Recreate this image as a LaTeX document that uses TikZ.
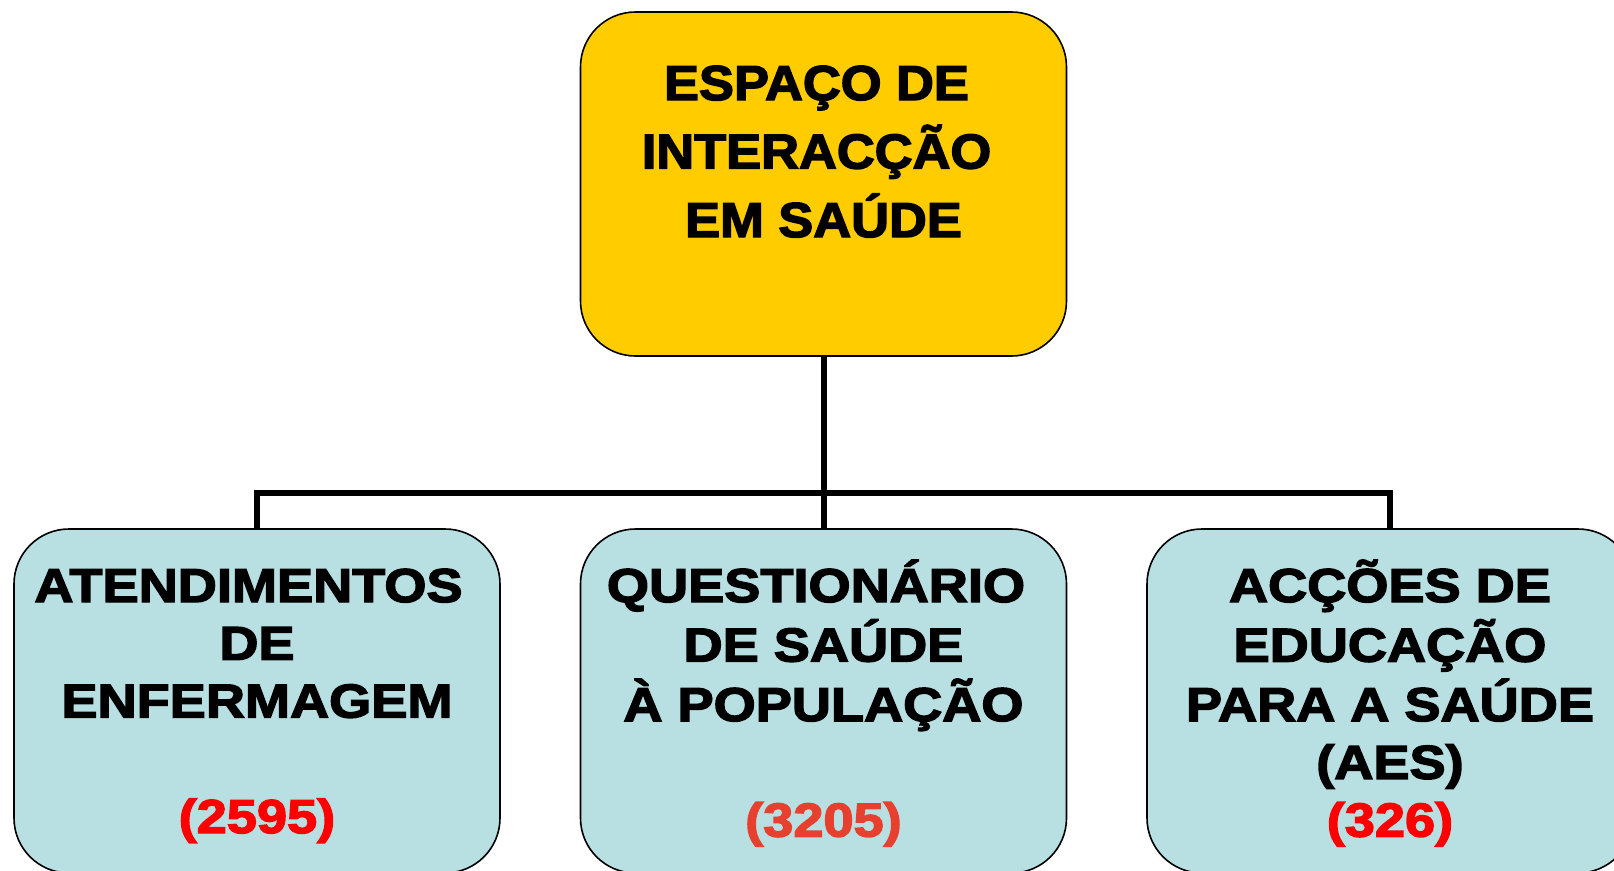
\documentclass[tikz,border=0pt]{standalone}
\usepackage{fontspec}
\newfontfamily\topfont{Liberation Sans}[BoldFeatures={FakeBold=3}, FakeStretch=1.07]
\newfontfamily\botfont{Liberation Sans}[BoldFeatures={FakeBold=3}, FakeStretch=1.14]
\definecolor{gold}{HTML}{FFCC00}
\definecolor{paleblue}{HTML}{B8DFE2}
\definecolor{brightred}{HTML}{FF0000}
\definecolor{softred}{HTML}{E8402F}
\begin{document}
\begin{tikzpicture}[x=1pt,y=-1pt,
  box/.style={draw=black, line width=1.6pt, rounded corners=55pt, inner sep=0pt,
    minimum width=486pt, minimum height=344pt},
  topbox/.style={box, fill=gold},
  botbox/.style={box, fill=paleblue},
  conn/.style={draw=black, line width=6pt, line join=miter},
  toptext/.style={anchor=base, inner sep=0pt, font=\topfont\bfseries\fontsize{49}{68.5}\selectfont},
  bottext/.style={anchor=base, inner sep=0pt, font=\botfont\bfseries\fontsize{47.5}{57.75}\selectfont}
]
\useasboundingbox (0,0) rectangle (1614,870);
\fill[white] (0,0) rectangle (1614,870);

\node[topbox] (top) at (823.5,184) {};
\node[botbox] (left) at (257,701) {};
\node[botbox] (mid) at (823.5,701) {};
\node[botbox] (right) at (1390,701) {};

\coordinate (bus) at (823.5,493);
\draw[conn] (top.south) -- (bus);
\draw[conn] (left.north) |- (bus) -| (right.north);
\draw[conn] (mid.north) -- (bus);

\node[toptext] (ttop) at (823.5,100) {\begin{tabular}[t]{@{}c@{}}ESPAÇO DE\hspace*{14pt}\\ INTERACÇÃO\hspace*{14pt}\\ EM SAÚDE\end{tabular}};

\node[bottext] (tleft) at (257,602) {\begin{tabular}[t]{@{}c@{}}ATENDIMENTOS\hspace*{17pt}\\ DE\\ ENFERMAGEM\\ \\ \textcolor{brightred}{(2595)}\end{tabular}};

\node[bottext] (tmid) at (823.5,602) {\begin{tabular}[t]{@{}c@{}}QUESTIONÁRIO\hspace*{15pt}\\ DE SAÚDE\\ À POPULAÇÃO\\ \\ \textcolor{softred}{(3205)}\end{tabular}};

\node[bottext] (tright) at (1390,602) {\begin{tabular}[t]{@{}c@{}}ACÇÕES DE\\ EDUCAÇÃO\\ PARA A SAÚDE\\ (AES)\\ \textcolor{brightred}{(326)}\end{tabular}};
\end{tikzpicture}
\end{document}
